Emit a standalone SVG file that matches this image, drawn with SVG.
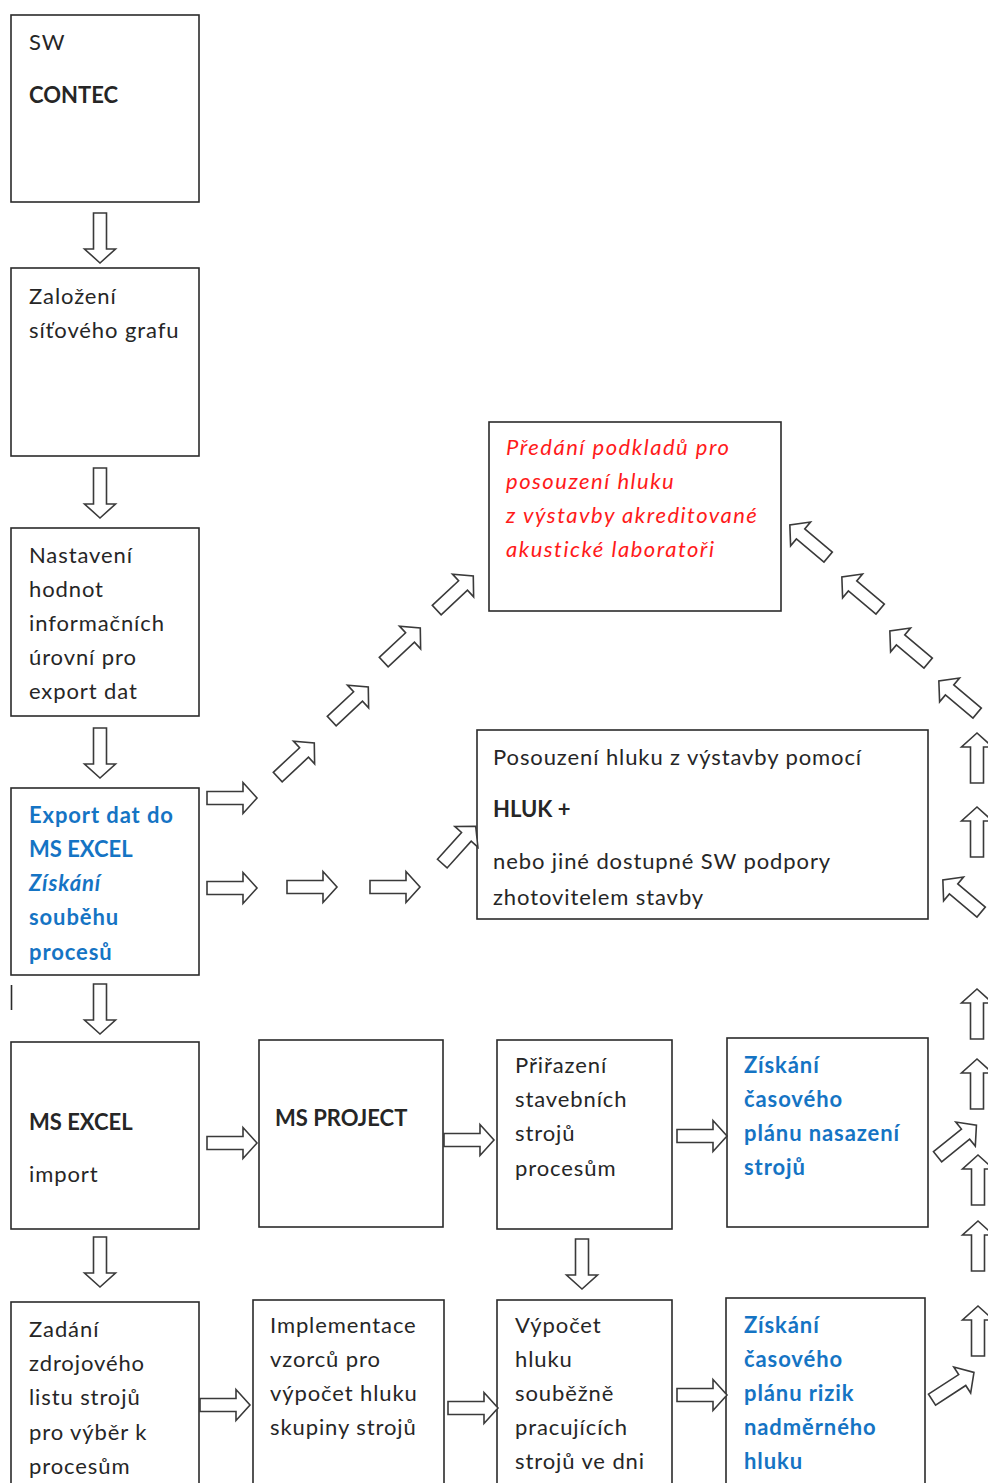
<svg xmlns="http://www.w3.org/2000/svg" xmlns:xlink="http://www.w3.org/1999/xlink" width="988" height="1483" viewBox="0 0 988 1483">
  <style>
    .box { fill: #ffffff; stroke: #2b2b2b; stroke-width: 1.6; }
    .t { font-family: Lato, "Noto Sans", "Liberation Sans", sans-serif; font-size: 22px; letter-spacing: 0.9px; fill: #262626; }
    .b { font-weight: bold; letter-spacing: 0; }
    .blue { fill: #1574c4; font-weight: bold; }
    .red { fill: #ff1a1a; font-style: italic; letter-spacing: 1.5px; }
    .it { font-style: italic; }
    .arr { fill: #ffffff; stroke: #3a3a3a; stroke-width: 1.6; stroke-linejoin: miter; }
  </style>
  <defs>
    <!-- outlined block arrow, 50px long, pointing +x, centred on origin -->
    <path id="blk" d="M-25,-6.5 L11,-6.5 L11,-15.5 L25,0 L11,15.5 L11,6.5 L-25,6.5 Z"/>
  </defs>
  <rect width="988" height="1483" fill="#ffffff"/>

  <!-- left column -->
  <g id="sw-contec">
    <rect class="box" x="11" y="15" width="188" height="187"/>
    <text class="t" x="29" y="50">SW</text>
    <text class="t b" x="29" y="103">CONTEC</text>
  </g>
  <g id="zalozeni">
    <rect class="box" x="11" y="268" width="188" height="188"/>
    <text class="t" x="29" y="304">Založení</text>
    <text class="t" x="29" y="338">síťového grafu</text>
  </g>
  <g id="nastaveni">
    <rect class="box" x="11" y="528" width="188" height="188"/>
    <text class="t" x="29" y="563">Nastavení</text>
    <text class="t" x="29" y="597">hodnot</text>
    <text class="t" x="29" y="631">informačních</text>
    <text class="t" x="29" y="665">úrovní pro</text>
    <text class="t" x="29" y="699">export dat</text>
  </g>
  <g id="export">
    <rect class="box" x="11" y="788" width="188" height="187"/>
    <text class="t blue" x="29" y="823">Export dat do</text>
    <text class="t blue b" x="29" y="857">MS EXCEL</text>
    <text class="t blue it" x="29" y="891">Získání</text>
    <text class="t blue" x="29" y="925">souběhu</text>
    <text class="t blue" x="29" y="960">procesů</text>
  </g>
  <line x1="11.5" y1="985" x2="11.5" y2="1010" stroke="#2b2b2b" stroke-width="1.6"/>
  <g id="ms-excel">
    <rect class="box" x="11" y="1042" width="188" height="187"/>
    <text class="t b" x="29" y="1130">MS EXCEL</text>
    <text class="t" x="29" y="1182">import</text>
  </g>
  <g id="zadani">
    <rect class="box" x="11" y="1302" width="188" height="190"/>
    <text class="t" x="29" y="1337">Zadání</text>
    <text class="t" x="29" y="1371">zdrojového</text>
    <text class="t" x="29" y="1405">listu strojů</text>
    <text class="t" x="29" y="1440">pro výběr k</text>
    <text class="t" x="29" y="1474">procesům</text>
  </g>

  <!-- middle and right boxes -->
  <g id="predani">
    <rect class="box" x="489" y="422" width="292" height="189"/>
    <text class="t red" x="506" y="455">Předání podkladů pro</text>
    <text class="t red" x="506" y="489">posouzení hluku</text>
    <text class="t red" x="506" y="523">z výstavby akreditované</text>
    <text class="t red" x="506" y="557">akustické laboratoři</text>
  </g>
  <g id="posouzeni">
    <rect class="box" x="477" y="730" width="451" height="189"/>
    <text class="t" x="493" y="765">Posouzení hluku z výstavby pomocí</text>
    <text class="t b" x="493" y="817">HLUK +</text>
    <text class="t" x="493" y="869">nebo jiné dostupné SW podpory</text>
    <text class="t" x="493" y="905">zhotovitelem stavby</text>
  </g>
  <g id="ms-project">
    <rect class="box" x="259" y="1040" width="184" height="187"/>
    <text class="t b" x="275" y="1126">MS PROJECT</text>
  </g>
  <g id="prirazeni">
    <rect class="box" x="497" y="1040" width="175" height="189"/>
    <text class="t" x="515" y="1073">Přiřazení</text>
    <text class="t" x="515" y="1107">stavebních</text>
    <text class="t" x="515" y="1141">strojů</text>
    <text class="t" x="515" y="1176">procesům</text>
  </g>
  <g id="plan-nasazeni">
    <rect class="box" x="727" y="1038" width="201" height="189"/>
    <text class="t blue" x="744" y="1073">Získání</text>
    <text class="t blue" x="744" y="1107">časového</text>
    <text class="t blue" x="744" y="1141">plánu nasazení</text>
    <text class="t blue" x="744" y="1175">strojů</text>
  </g>
  <g id="implementace">
    <rect class="box" x="253" y="1300" width="191" height="192"/>
    <text class="t" x="270" y="1333">Implementace</text>
    <text class="t" x="270" y="1367">vzorců pro</text>
    <text class="t" x="270" y="1401">výpočet hluku</text>
    <text class="t" x="270" y="1435">skupiny strojů</text>
  </g>
  <g id="vypocet">
    <rect class="box" x="497" y="1300" width="175" height="192"/>
    <text class="t" x="515" y="1333">Výpočet</text>
    <text class="t" x="515" y="1367">hluku</text>
    <text class="t" x="515" y="1401">souběžně</text>
    <text class="t" x="515" y="1435">pracujících</text>
    <text class="t" x="515" y="1469">strojů ve dni</text>
  </g>
  <g id="plan-rizik">
    <rect class="box" x="726" y="1298" width="199" height="194"/>
    <text class="t blue" x="744" y="1333">Získání</text>
    <text class="t blue" x="744" y="1367">časového</text>
    <text class="t blue" x="744" y="1401">plánu rizik</text>
    <text class="t blue" x="744" y="1435">nadměrného</text>
    <text class="t blue" x="744" y="1469">hluku</text>
  </g>

  <!-- block arrows -->
  <g id="connectors" class="arr">
    <!-- down the left column -->
    <use xlink:href="#blk" transform="translate(100,238) rotate(90)"/>
    <use xlink:href="#blk" transform="translate(100,493) rotate(90)"/>
    <use xlink:href="#blk" transform="translate(100,753) rotate(90)"/>
    <use xlink:href="#blk" transform="translate(100,1009) rotate(90)"/>
    <use xlink:href="#blk" transform="translate(100,1262) rotate(90)"/>
    <use xlink:href="#blk" transform="translate(582,1264) rotate(90)"/>

    <!-- rightward -->
    <use xlink:href="#blk" transform="translate(232,798)"/>
    <use xlink:href="#blk" transform="translate(232,888)"/>
    <use xlink:href="#blk" transform="translate(312,887)"/>
    <use xlink:href="#blk" transform="translate(395,887)"/>
    <use xlink:href="#blk" transform="translate(232,1143)"/>
    <use xlink:href="#blk" transform="translate(469,1140)"/>
    <use xlink:href="#blk" transform="translate(702,1136)"/>
    <use xlink:href="#blk" transform="translate(225,1405)"/>
    <use xlink:href="#blk" transform="translate(473,1408)"/>
    <use xlink:href="#blk" transform="translate(702,1395)"/>

    <!-- rising chain to the laboratory box -->
    <use xlink:href="#blk" transform="translate(296,760) rotate(-43)"/>
    <use xlink:href="#blk" transform="translate(350,704) rotate(-43)"/>
    <use xlink:href="#blk" transform="translate(402,645) rotate(-43)"/>
    <use xlink:href="#blk" transform="translate(455,593) rotate(-43)"/>
    <use xlink:href="#blk" transform="translate(459,845) rotate(-48)"/>

    <!-- right-hand return path -->
    <use xlink:href="#blk" transform="translate(809,541) rotate(-140)"/>
    <use xlink:href="#blk" transform="translate(861,593) rotate(-140)"/>
    <use xlink:href="#blk" transform="translate(909,647) rotate(-140)"/>
    <use xlink:href="#blk" transform="translate(958,697) rotate(-140)"/>
    <use xlink:href="#blk" transform="translate(962,896) rotate(-140)"/>
    <use xlink:href="#blk" transform="translate(977,758) rotate(-90)"/>
    <use xlink:href="#blk" transform="translate(977,832) rotate(-90)"/>
    <use xlink:href="#blk" transform="translate(977,1014) rotate(-90)"/>
    <use xlink:href="#blk" transform="translate(977,1084) rotate(-90)"/>
    <use xlink:href="#blk" transform="translate(978,1180) rotate(-90)"/>
    <use xlink:href="#blk" transform="translate(978,1246) rotate(-90)"/>
    <use xlink:href="#blk" transform="translate(978,1331) rotate(-90)"/>
    <use xlink:href="#blk" transform="translate(957,1141) rotate(-39)"/>
    <use xlink:href="#blk" transform="translate(953,1386) rotate(-33)"/>
  </g>
</svg>
